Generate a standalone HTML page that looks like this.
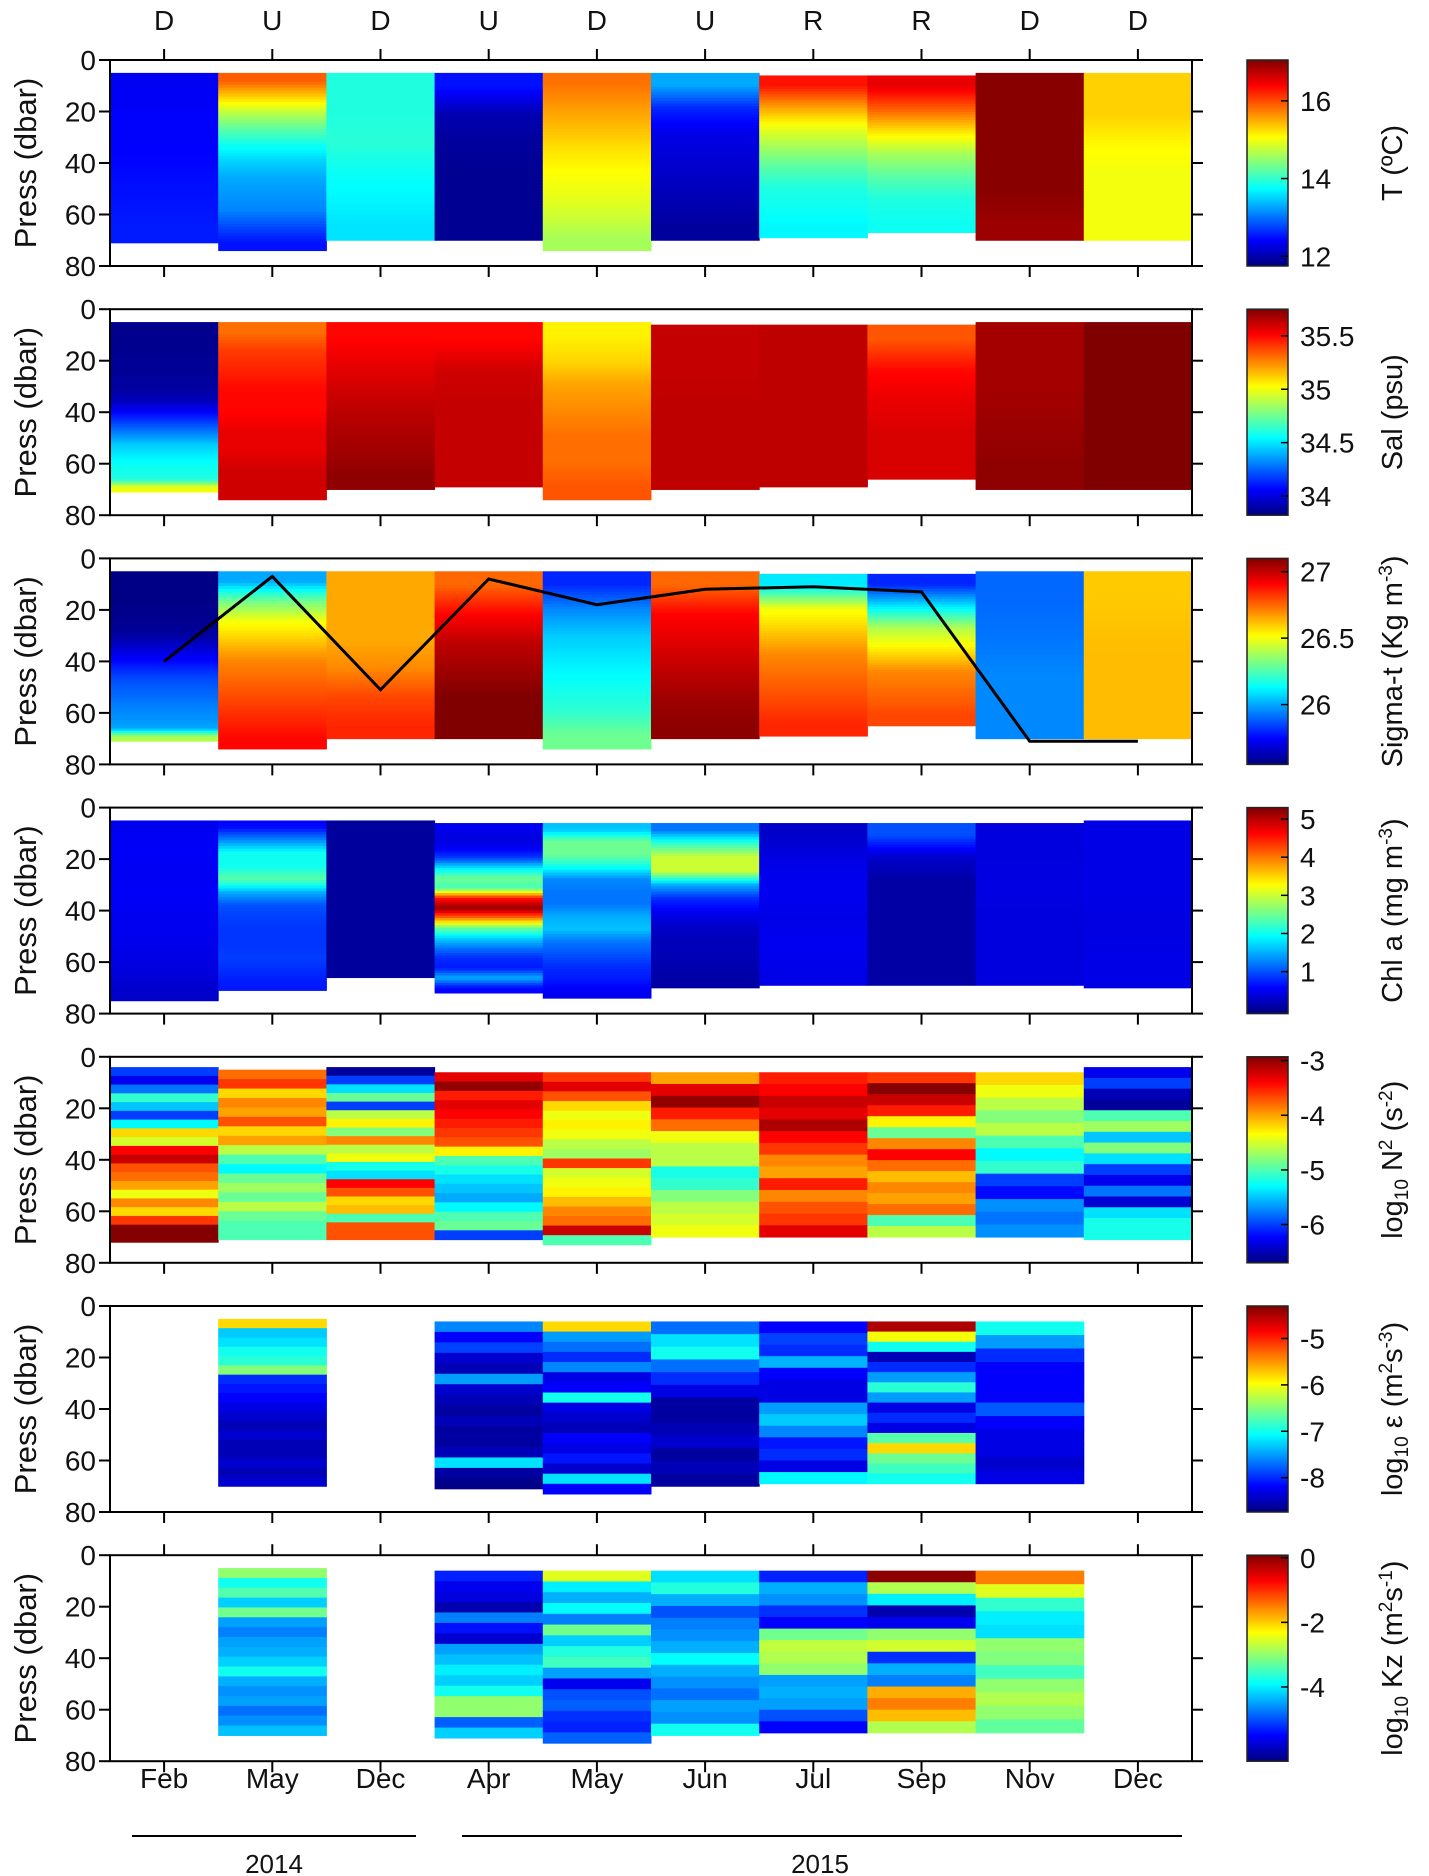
<!DOCTYPE html>
<html><head><meta charset="utf-8"><style>
html,body{margin:0;padding:0;background:#fff;}
svg{display:block;font-family:"Liberation Sans",Arial,sans-serif;}
</style></head><body>
<svg id="fig" width="1429" height="1876" viewBox="0 0 1429 1876" xmlns="http://www.w3.org/2000/svg"></svg>
<script>
// ---- data ----
const months = ["Feb","May","Dec","Apr","May","Jun","Jul","Sep","Nov","Dec"];
const regimes = ["D","U","D","U","D","U","R","R","D","D"];
const yTicks = [0,20,40,60,80];
const panelNames = ["temperature","salinity","sigma-t","chlorophyll","log-n2","log-epsilon","log-kz"];
const clims = [[11.75,17.05],[33.82,35.75],[25.55,27.1],[-0.1,5.3],[-6.7,-2.93],[-8.74,-4.3],[-6.3,0.08]];
const cbTicks = [[12,14,16],[34,34.5,35,35.5],[26,26.5,27],[1,2,3,4,5],[-6,-5,-4,-3],[-8,-7,-6,-5],[-4,-2,0]];
const smoothPanels = [true,true,true,true,false,false,false];
const tempTop=[5,5,5,5,5,5,6,6,5,5], tempBot=[71,74,70,70,74,70,69,67,70,70];
const tempVals=[[12.35,12.4,12.4,12.45,12.5,12.55],[15.9,15.3,14.7,14.2,13.8,13.5,13.3,13.2,13.1,12.8,12.5],[13.9,13.9,13.95,13.8,13.7,13.6],[12.5,12.0,11.9,11.85,11.85,11.85],[15.8,15.6,15.4,15.2,15.05,14.95,14.8,14.6],[13.3,12.6,12.3,12.2,12.1,12.0,11.9],[16.3,15.6,15.0,14.6,14.2,13.9,13.8,13.7],[16.5,15.9,15.2,14.6,14.2,13.9,13.8],[17.0,17.0,17.0,17.0,16.9],[15.3,15.3,15.1,15.0,15.0,15.0]];
const salTop=[5,5,5,5,5,6,6,6,5,5], salBot=[71,74,70,69,74,70,69,66,70,70];
const salVals=[[33.85,33.85,33.85,33.85,33.86,33.86,33.87,33.88,33.9,33.95,34.05,34.15,34.25,34.35,34.45,34.5,34.55,34.58,34.6,35.0],[35.3,35.4,35.45,35.5,35.5,35.55,35.55,35.6,35.6],[35.5,35.55,35.6,35.65,35.68,35.72],[35.5,35.6,35.62,35.62,35.62],[35.05,35.1,35.2,35.25,35.3,35.3,35.35],[35.62,35.62,35.63,35.63,35.63],[35.63,35.63,35.63,35.63],[35.35,35.5,35.55,35.58,35.58],[35.68,35.68,35.7,35.72],[35.75,35.75,35.75]];
const sigTop=[5,5,5,5,5,5,6,6,5,5], sigBot=[71,74,70,70,74,70,69,65,70,70];
const sigVals=[[25.56,25.56,25.56,25.56,25.57,25.57,25.58,25.6,25.65,25.7,25.75,25.8,25.85,25.88,25.9,25.93,25.95,25.97,26.0,26.4],[26.0,26.3,26.5,26.6,26.7,26.75,26.8,26.85,26.9],[26.65,26.65,26.65,26.7,26.8,26.85],[26.75,26.9,27.0,27.05,27.1,27.1],[25.8,25.95,26.05,26.1,26.15,26.2,26.3],[26.75,26.9,26.95,27.0,27.05,27.08],[26.1,26.5,26.6,26.7,26.75,26.8,26.85],[25.8,26.1,26.4,26.55,26.7,26.75,26.8],[25.9,25.92,25.95,25.95],[26.6,26.62,26.62]];
const mldDepth=[40,7,51,8,18,12,11,13,71,71];
const chlTop=[5,5,5,6,6,6,6,6,6,5], chlBot=[75,71,66,72,74,70,69,69,69,70];
const chlVals=[[0.5,0.55,0.5,0.55,0.5,0.5,0.45,0.4,0.3],[0.6,1.3,2.0,2.0,2.4,1.5,1.0,0.9,0.85,0.85,0.9,0.8,0.7],[0.05,0.05],[0.5,0.4,0.5,0.9,1.8,2.5,2.3,4.5,5.2,4.0,2.5,1.7,1.2,0.8,0.7,1.5,0.6],[1.6,2.5,2.5,2.0,1.3,1.2,1.2,1.5,1.6,1.2,1.0,0.8,0.7,0.5],[1.2,2.2,3.0,3.0,1.5,0.8,0.5,0.3,0.2,0.2,0.15,0.1],[0.3,0.45,0.5,0.45,0.5,0.45],[1.0,0.3,0.1,0.1,0.1,0.1,0.1],[0.4,0.42,0.4,0.4],[0.45,0.45,0.42,0.45]];
const n2Top=[4,5,4,6,6,6,6,6,6,4], n2Bot=[72,71,71,71,73,70,70,70,70,71];
const n2Vals=[[-6.0,-6.3,-5.8,-5.1,-5.5,-6.0,-5.3,-4.2,-4.5,-3.4,-3.2,-3.7,-3.8,-4.0,-4.4,-3.9,-4.2,-3.6,-2.95,-2.95],[-3.8,-3.6,-4.2,-3.9,-4.0,-3.7,-4.2,-4.0,-4.6,-5.0,-5.3,-4.9,-4.7,-4.9,-4.6,-4.9,-5.0,-5.0],[-6.6,-6.0,-5.4,-4.9,-6.0,-4.6,-4.3,-4.8,-3.9,-4.6,-4.4,-5.2,-5.4,-3.4,-3.7,-4.2,-4.1,-5.0,-3.7,-3.7],[-3.3,-3.0,-3.5,-3.3,-3.4,-3.5,-3.6,-3.7,-4.3,-5.0,-5.2,-5.4,-5.5,-5.6,-5.3,-5.0,-4.9,-6.0],[-3.6,-3.3,-3.7,-4.2,-4.4,-4.3,-4.4,-4.6,-4.7,-3.6,-4.5,-4.4,-4.3,-4.1,-3.9,-3.8,-3.2,-5.0],[-4.0,-3.3,-3.0,-3.5,-3.8,-4.4,-4.6,-4.6,-5.2,-5.1,-4.8,-4.6,-4.5,-4.4],[-3.5,-3.4,-3.2,-3.3,-3.1,-3.4,-3.6,-3.9,-4.0,-3.5,-3.9,-3.7,-3.6,-3.3],[-3.6,-2.95,-3.2,-3.5,-4.3,-4.9,-3.9,-3.4,-3.8,-4.1,-3.9,-4.0,-3.8,-5.0,-4.6],[-4.2,-4.4,-4.6,-4.8,-4.6,-5.0,-5.3,-5.1,-6.0,-6.2,-5.7,-5.8,-5.7],[-6.3,-6.0,-6.5,-6.6,-5.0,-4.7,-5.5,-4.8,-5.4,-6.0,-6.3,-5.8,-6.4,-5.4,-5.2,-5.2]];
const epsTop=[null,5,null,6,6,6,6,6,6,null], epsBot=[null,70,null,71,73,70,69,69,69,null];
const epsVals=[null,[-5.8,-7.3,-7.2,-7.0,-6.9,-6.5,-8.0,-8.1,-8.2,-8.3,-8.4,-8.5,-8.4,-8.5,-8.5,-8.4,-8.5,-8.4],null,[-7.6,-8.2,-7.9,-8.4,-8.5,-7.5,-8.4,-8.5,-8.6,-8.5,-8.6,-8.6,-8.5,-7.2,-8.6,-8.7],[-5.8,-7.5,-7.7,-8.0,-7.6,-8.3,-8.2,-7.0,-8.3,-8.4,-8.5,-8.2,-8.3,-8.1,-8.4,-7.2,-8.2],[-7.7,-7.2,-7.0,-7.7,-8.0,-8.3,-8.6,-8.6,-8.5,-8.4,-8.6,-8.5,-8.6],[-8.2,-7.9,-8.0,-7.4,-8.2,-8.3,-8.3,-7.5,-7.3,-7.6,-8.1,-8.0,-8.3,-7.1],[-4.5,-6.0,-7.0,-8.5,-8.0,-7.5,-6.9,-7.5,-8.3,-8.0,-8.3,-6.7,-5.8,-6.6,-6.8,-7.0],[-7.0,-7.5,-8.0,-8.2,-8.2,-8.2,-7.8,-8.2,-8.3,-8.3,-8.4,-8.3],null];
const kzTop=[null,5,null,6,6,6,6,6,6,null], kzBot=[null,70,null,71,73,70,69,69,69,null];
const kzVals=[null,[-3.0,-3.8,-3.4,-4.2,-3.2,-4.5,-4.7,-4.5,-4.4,-4.2,-3.8,-4.4,-4.6,-4.5,-4.8,-4.6,-4.3],null,[-5.3,-5.6,-5.7,-6.0,-4.7,-5.4,-5.8,-4.5,-4.3,-4.0,-4.2,-3.8,-3.0,-3.0,-4.9,-4.2],[-2.5,-4.0,-4.4,-3.9,-4.7,-3.2,-4.2,-3.7,-3.5,-4.5,-5.6,-5.0,-4.9,-5.2,-5.3,-4.9],[-4.1,-3.7,-4.4,-5.0,-4.7,-4.6,-4.4,-3.9,-4.4,-4.6,-4.8,-4.5,-4.6,-3.8],[-5.3,-4.4,-4.6,-5.2,-5.5,-3.2,-2.7,-2.8,-3.0,-4.5,-4.4,-4.5,-5.0,-5.5],[0.0,-2.8,-4.0,-6.0,-5.6,-3.0,-2.6,-5.2,-4.4,-4.7,-1.8,-1.5,-1.9,-2.8],[-1.5,-2.5,-3.6,-4.0,-4.1,-3.0,-3.1,-3.5,-3.0,-2.8,-3.0,-3.3],null];
const panelTops=[tempTop,salTop,sigTop,chlTop,n2Top,epsTop,kzTop];
const panelBots=[tempBot,salBot,sigBot,chlBot,n2Bot,epsBot,kzBot];
const panelVals=[tempVals,salVals,sigVals,chlVals,n2Vals,epsVals,kzVals];

// ---- layout ----
const NS="http://www.w3.org/2000/svg";
const svg=document.getElementById("fig");
const AX_L=110, AX_R=1192, P_H=206, P0=60, P_STEP=249.2;
const colW=(AX_R-AX_L)/10;
const CB_L=1247, CB_R=1288;
function xCol(i){return AX_L+i*colW;}
function xCenter(i){return AX_L+(i+0.5)*colW;}
function yDepth(p,d){return P0+p*P_STEP+d/80*P_H;}
function clamp(v){return Math.max(0,Math.min(1,v));}
function jet(t){t=clamp(t);const r=clamp(1.5-Math.abs(4*t-3)),g=clamp(1.5-Math.abs(4*t-2)),b=clamp(1.5-Math.abs(4*t-1));return `rgb(${Math.round(r*255)},${Math.round(g*255)},${Math.round(b*255)})`;}
function el(tag,attrs,parent){const e=document.createElementNS(NS,tag);for(const k in attrs)e.setAttribute(k,attrs[k]);(parent||svg).appendChild(e);return e;}
function txt(s,attrs,parent){const e=el("text",attrs,parent);e.textContent=s;return e;}
function sampleSmooth(vals,f){const n=vals.length;const pos=f*n-0.5;if(pos<=0)return vals[0];if(pos>=n-1)return vals[n-1];const k=Math.floor(pos),r=pos-k;return vals[k]*(1-r)+vals[k+1]*r;}

regimes.forEach((r,i)=>{
  const t=txt(r,{x:xCenter(i),y:30,"font-size":28,"text-anchor":"middle",fill:"#111"});
  
  
});

const units=[
 ['T (ºC)'],
 ['Sal (psu)'],
 ['Sigma-t (Kg m','-3',')'],
 ['Chl a (mg m','-3',')'],
 ['log','10',' N','2',' (s','-2',')'],
 ['log','10',' ε (m','2','s','-3',')'],
 ['log','10',' Kz (m','2','s','-1',')']
];
const subIdx=[[],[],[],[],[1],[1],[1]];

for(let p=0;p<7;p++){
  const g=el("g",{});
  
  
  const top=P0+p*P_STEP, bot=top+P_H;
  const [cmin,cmax]=clims[p];
  for(let i=0;i<10;i++){
    const vals=panelVals[p][i]; if(!vals) continue;
    const d0=panelTops[p][i], d1=panelBots[p][i];
    const cg=el("g",{},g);
    
    
    const smooth=smoothPanels[p];
    const n=smooth?Math.max(60,vals.length*4):vals.length;
    for(let k=0;k<n;k++){
      const v=smooth?sampleSmooth(vals,(k+0.5)/n):vals[k];
      const y0=yDepth(p,d0+(d1-d0)*k/n), y1=yDepth(p,d0+(d1-d0)*(k+1)/n);
      const r=el("rect",{x:xCol(i),y:y0,width:colW+0.5,height:y1-y0+0.5,fill:jet((v-cmin)/(cmax-cmin))},cg);
      
      
    }
  }
  if(p===2){
    const pts=mldDepth.map((d,i)=>xCenter(i)+","+yDepth(p,d)).join(" ");
    const pl=el("polyline",{points:pts,fill:"none",stroke:"#000","stroke-width":3},g);
    
    
  }
  const box=el("rect",{x:AX_L,y:top,width:AX_R-AX_L,height:P_H,fill:"none",stroke:"#000","stroke-width":2},g);
  
  
  yTicks.forEach(v=>{
    const y=yDepth(p,v);
    el("line",{x1:AX_L-11,y1:y,x2:AX_L,y2:y,stroke:"#000","stroke-width":2},g);
    el("line",{x1:AX_R,y1:y,x2:AX_R+11,y2:y,stroke:"#000","stroke-width":2},g);
    const t=txt(String(v),{x:AX_L-14,y:y+10,"font-size":28,"text-anchor":"end",fill:"#111"},g);
    
    
  });
  for(let i=0;i<10;i++){
    el("line",{x1:xCenter(i),y1:bot,x2:xCenter(i),y2:bot+11,stroke:"#000","stroke-width":2},g);
    if(p===0||p===6) el("line",{x1:xCenter(i),y1:top-11,x2:xCenter(i),y2:top,stroke:"#000","stroke-width":2},g);
  }
  const yl=txt("Press (dbar)",{x:0,y:0,"font-size":31,"text-anchor":"middle",fill:"#111",transform:`translate(36,${top+P_H/2}) rotate(-90)`},g);
  
  
  const gid="jet"+p;
  const lg=el("linearGradient",{id:gid,x1:0,y1:1,x2:0,y2:0},el("defs",{},g));
  for(let s=0;s<=8;s++) el("stop",{offset:s/8,"stop-color":jet(s/8)},lg);
  const cb=el("rect",{x:CB_L,y:top,width:CB_R-CB_L,height:P_H,fill:`url(#${gid})`,stroke:"#222","stroke-width":1.5},g);
  
  
  cbTicks[p].forEach(v=>{
    const y=bot-(v-cmin)/(cmax-cmin)*P_H;
    el("line",{x1:CB_R-7,y1:y,x2:CB_R,y2:y,stroke:"#000","stroke-width":1.5},g);
    const t=txt(String(v),{x:CB_R+12,y:y+10,"font-size":28,fill:"#111"},g);
    
    
  });
  const ct=el("text",{x:0,y:0,"font-size":29,"text-anchor":"middle",fill:"#111",transform:`translate(1402,${top+P_H/2}) rotate(-90)`},g);
  
  
  units[p].forEach((s,k)=>{
    const ts=el("tspan",{},ct);
    if(k%2===1){ts.setAttribute("font-size",19);ts.setAttribute("baseline-shift",subIdx[p].includes(k)?"-30%":"super");}
    ts.textContent=s;
  });
}

months.forEach((m,i)=>{
  const t=txt(m,{x:xCenter(i),y:1788,"font-size":28,"text-anchor":"middle",fill:"#111"});
  
  
});
const l1=el("line",{x1:132,y1:1836,x2:416,y2:1836,stroke:"#000","stroke-width":2});


const l2=el("line",{x1:462,y1:1836,x2:1182,y2:1836,stroke:"#000","stroke-width":2});


const y1t=txt("2014",{x:274,y:1873,"font-size":26,"text-anchor":"middle",fill:"#111"});


const y2t=txt("2015",{x:820,y:1873,"font-size":26,"text-anchor":"middle",fill:"#111"});


</script>
</body></html>
